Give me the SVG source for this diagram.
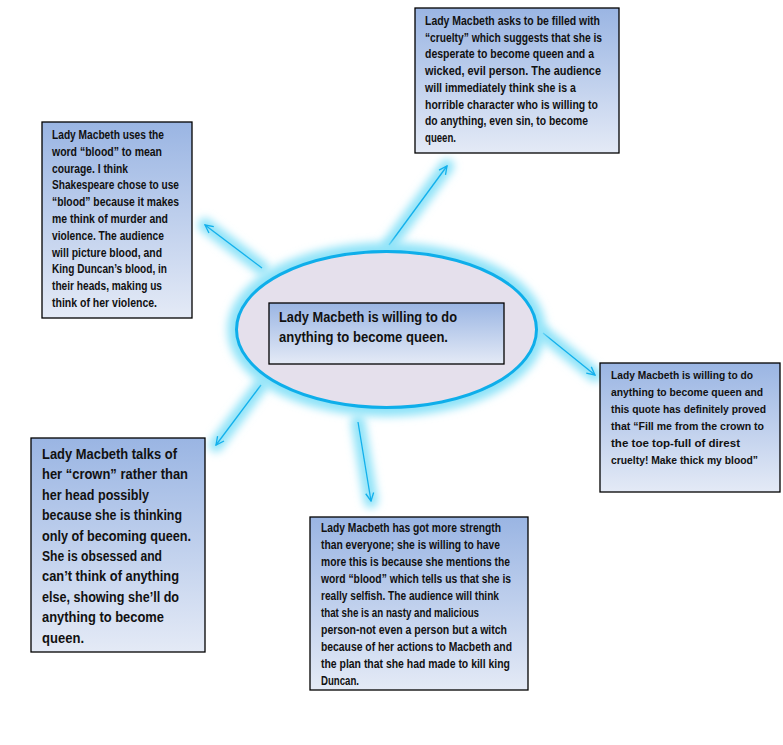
<svg xmlns="http://www.w3.org/2000/svg" width="783" height="745" viewBox="0 0 783 745">
<style>
.box{stroke:#000;stroke-width:1.3;fill:url(#bg)}
.t{font-family:"Liberation Sans",Arial,sans-serif;font-weight:bold;font-size:12px;fill:#111}
.ts{font-family:"Liberation Sans",Arial,sans-serif;font-weight:bold;font-size:11px;fill:#111}
.tl{font-family:"Liberation Sans",Arial,sans-serif;font-weight:bold;font-size:15px;fill:#111}
.glow{stroke:#8fe3f8;fill:none;stroke-linecap:round;filter:url(#blur)}
.arr{stroke:#12b0ec;stroke-width:1.3;fill:none;marker-end:url(#ah)}
</style>
<defs>
<linearGradient id="bg" x1="0" y1="0" x2="0" y2="1">
<stop offset="0" stop-color="#9ab5e3"/>
<stop offset="1" stop-color="#e4eaf6"/>
</linearGradient>
<filter id="blur" x="-50%" y="-50%" width="200%" height="200%">
<feGaussianBlur stdDeviation="4"/>
</filter>
<marker id="ah" viewBox="0 0 10 10" refX="9" refY="5" markerWidth="10" markerHeight="10" markerUnits="userSpaceOnUse" orient="auto">
<path d="M1,1 L9,5 L1,9" fill="none" stroke="#12b0ec" stroke-width="1.3"/>
</marker>
</defs>
<rect width="783" height="745" fill="#fff"/>
<g id="connectors">
<g class="glow" stroke-width="14">
<line x1="389" y1="245" x2="447" y2="166"/>
<line x1="262" y1="268" x2="205" y2="225"/>
<line x1="543" y1="333" x2="595" y2="375"/>
<line x1="261" y1="385" x2="216" y2="445"/>
<line x1="358" y1="422" x2="371" y2="501"/>
</g>
<line class="arr" x1="389" y1="245" x2="447" y2="166"/>
<line class="arr" x1="262" y1="268" x2="205" y2="225"/>
<line class="arr" x1="543" y1="333" x2="595" y2="375"/>
<line class="arr" x1="261" y1="385" x2="216" y2="445"/>
<line class="arr" x1="358" y1="422" x2="371" y2="501"/>
</g>
<g id="center">
<ellipse cx="386.5" cy="329.5" rx="150" ry="78" class="glow" stroke-width="18"/>
<ellipse cx="386.5" cy="329.5" rx="150" ry="78" fill="#e5e0ec" stroke="#0eaeea" stroke-width="3"/>
<rect x="269" y="303" width="235" height="61" class="box"/>
<text class="tl" x="279" y="322" textLength="178" lengthAdjust="spacingAndGlyphs">Lady Macbeth is willing to do</text>
<text class="tl" x="279" y="342" textLength="169" lengthAdjust="spacingAndGlyphs">anything to become queen.</text>
</g>
<g id="box-cruelty">
<rect x="415" y="8" width="204" height="145" class="box"/>
<text class="t" x="425" y="25" textLength="175" lengthAdjust="spacingAndGlyphs">Lady Macbeth asks to be  filled with</text>
<text class="t" x="425" y="41.7" textLength="177" lengthAdjust="spacingAndGlyphs">“cruelty”  which suggests that  she is</text>
<text class="t" x="425" y="58.4" textLength="169" lengthAdjust="spacingAndGlyphs">desperate  to become  queen  and a</text>
<text class="t" x="425" y="75.1" textLength="176" lengthAdjust="spacingAndGlyphs">wicked, evil person.  The audience</text>
<text class="t" x="425" y="91.8" textLength="151" lengthAdjust="spacingAndGlyphs">will immediately think she is a</text>
<text class="t" x="425" y="108.5" textLength="173" lengthAdjust="spacingAndGlyphs">horrible  character who is willing to</text>
<text class="t" x="425" y="125.2" textLength="163" lengthAdjust="spacingAndGlyphs">do  anything, even sin, to become</text>
<text class="t" x="425" y="141.9" textLength="31" lengthAdjust="spacingAndGlyphs">queen.</text>
</g>
<g id="box-blood">
<rect x="42" y="122" width="150" height="196" class="box"/>
<text class="t" x="52" y="139" textLength="112" lengthAdjust="spacingAndGlyphs">Lady Macbeth uses the</text>
<text class="t" x="52" y="155.8" textLength="110" lengthAdjust="spacingAndGlyphs">word  “blood”  to mean</text>
<text class="t" x="52" y="172.6" textLength="76" lengthAdjust="spacingAndGlyphs">courage. I think</text>
<text class="t" x="52" y="189.4" textLength="127" lengthAdjust="spacingAndGlyphs">Shakespeare chose to use</text>
<text class="t" x="52" y="206.2" textLength="127" lengthAdjust="spacingAndGlyphs">“blood”  because it makes</text>
<text class="t" x="52" y="223" textLength="116" lengthAdjust="spacingAndGlyphs">me think of murder and</text>
<text class="t" x="52" y="239.8" textLength="112" lengthAdjust="spacingAndGlyphs">violence. The audience</text>
<text class="t" x="52" y="256.6" textLength="110" lengthAdjust="spacingAndGlyphs">will picture blood, and</text>
<text class="t" x="52" y="273.4" textLength="115" lengthAdjust="spacingAndGlyphs">King Duncan’s blood, in</text>
<text class="t" x="52" y="290.2" textLength="110" lengthAdjust="spacingAndGlyphs">their heads, making us</text>
<text class="t" x="52" y="307" textLength="105" lengthAdjust="spacingAndGlyphs">think of her violence.</text>
</g>
<g id="box-quote">
<rect x="600" y="363" width="180" height="129" class="box"/>
<text class="ts" x="611" y="379" textLength="142" lengthAdjust="spacingAndGlyphs">Lady Macbeth is willing to do</text>
<text class="ts" x="611" y="396" textLength="152" lengthAdjust="spacingAndGlyphs">anything to become  queen  and</text>
<text class="ts" x="611" y="413" textLength="155" lengthAdjust="spacingAndGlyphs">this quote  has definitely proved</text>
<text class="ts" x="611" y="430" textLength="153" lengthAdjust="spacingAndGlyphs">that “Fill me from the  crown to</text>
<text class="ts" x="611" y="447" textLength="129" lengthAdjust="spacingAndGlyphs">the toe  top-full of direst</text>
<text class="ts" x="611" y="464" textLength="147" lengthAdjust="spacingAndGlyphs">cruelty! Make thick my blood”</text>
</g>
<g id="box-crown">
<rect x="31" y="438" width="174" height="214" class="box"/>
<text class="tl" x="42" y="459" textLength="135" lengthAdjust="spacingAndGlyphs">Lady Macbeth talks of</text>
<text class="tl" x="42" y="479.4" textLength="146" lengthAdjust="spacingAndGlyphs">her “crown” rather than</text>
<text class="tl" x="42" y="499.8" textLength="107" lengthAdjust="spacingAndGlyphs">her head possibly</text>
<text class="tl" x="42" y="520.2" textLength="140" lengthAdjust="spacingAndGlyphs">because she is thinking</text>
<text class="tl" x="42" y="540.6" textLength="149" lengthAdjust="spacingAndGlyphs">only of becoming queen.</text>
<text class="tl" x="42" y="561" textLength="120" lengthAdjust="spacingAndGlyphs">She is obsessed and</text>
<text class="tl" x="42" y="581.4" textLength="137" lengthAdjust="spacingAndGlyphs">can’t think of anything</text>
<text class="tl" x="42" y="601.8" textLength="137" lengthAdjust="spacingAndGlyphs">else, showing she’ll do</text>
<text class="tl" x="42" y="622.2" textLength="122" lengthAdjust="spacingAndGlyphs">anything to become</text>
<text class="tl" x="42" y="642.6" textLength="42" lengthAdjust="spacingAndGlyphs">queen.</text>
</g>
<g id="box-strength">
<rect x="310" y="517" width="218" height="173" class="box"/>
<text class="t" x="321" y="532" textLength="180" lengthAdjust="spacingAndGlyphs">Lady Macbeth has got more strength</text>
<text class="t" x="321" y="549" textLength="179" lengthAdjust="spacingAndGlyphs">than  everyone; she is willing to have</text>
<text class="t" x="321" y="566" textLength="189" lengthAdjust="spacingAndGlyphs">more this is because she mentions  the</text>
<text class="t" x="321" y="583" textLength="190" lengthAdjust="spacingAndGlyphs">word  “blood”  which tells us that she is</text>
<text class="t" x="321" y="600" textLength="178" lengthAdjust="spacingAndGlyphs">really selfish. The audience  will think</text>
<text class="t" x="321" y="617" textLength="158" lengthAdjust="spacingAndGlyphs">that she is an nasty and malicious</text>
<text class="t" x="321" y="634" textLength="186" lengthAdjust="spacingAndGlyphs">person-not  even a person  but a witch</text>
<text class="t" x="321" y="651" textLength="191" lengthAdjust="spacingAndGlyphs">because of her actions to Macbeth and</text>
<text class="t" x="321" y="668" textLength="189" lengthAdjust="spacingAndGlyphs">the plan  that she had  made to kill king</text>
<text class="t" x="321" y="685" textLength="38" lengthAdjust="spacingAndGlyphs">Duncan.</text>
</g>
</svg>
